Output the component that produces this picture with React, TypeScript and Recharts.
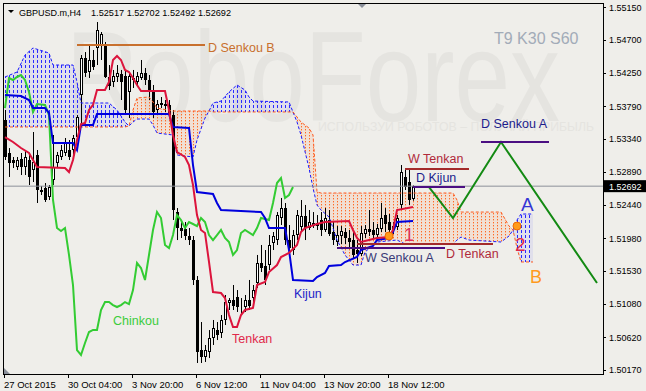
import React from "react";
import {
  ComposedChart,
  Area,
  Bar,
  Line,
  XAxis,
  YAxis,
  ReferenceLine,
  ReferenceDot,
} from "recharts";

const FONT = "'Liberation Sans', Arial, sans-serif";
const BG = "#efeeea";

// bar index 0 = 27 Oct 2015 12:00, one H4 bar per index
const tickBars = [0, 16, 32, 48, 64, 80, 96];
const tickLabels = [
  "27 Oct 2015",
  "30 Oct 04:00",
  "3 Nov 20:00",
  "6 Nov 12:00",
  "11 Nov 04:00",
  "13 Nov 20:00",
  "18 Nov 12:00",
];
const priceTicks = [
  1.5017, 1.5062, 1.5108, 1.5153, 1.5198, 1.5244, 1.5289, 1.5334, 1.5379,
  1.5425, 1.547, 1.5515,
];
const lastPrice = 1.52692;

// open, high, low, close
const ohlc: [number, number, number, number][] = [
  [1.536, 1.53737, 1.53051, 1.53092],
  [1.53147, 1.53215, 1.52818, 1.5301],
  [1.53051, 1.53092, 1.52941, 1.5301],
  [1.52955, 1.53092, 1.52914, 1.53051],
  [1.53064, 1.53147, 1.52845, 1.52955],
  [1.52955, 1.53188, 1.52845, 1.53092],
  [1.53051, 1.5312, 1.52708, 1.52818],
  [1.52914, 1.53435, 1.52749, 1.53023],
  [1.5312, 1.53188, 1.52461, 1.52639],
  [1.52639, 1.52694, 1.52571, 1.52612],
  [1.52667, 1.52735, 1.52475, 1.52502],
  [1.52543, 1.52708, 1.52502, 1.5268],
  [1.52777, 1.53394, 1.52708, 1.52955],
  [1.5301, 1.53161, 1.52941, 1.5312],
  [1.53092, 1.53257, 1.53051, 1.53188],
  [1.53147, 1.53353, 1.53106, 1.53298],
  [1.53188, 1.53325, 1.53051, 1.53092],
  [1.53188, 1.53394, 1.5312, 1.53353],
  [1.53366, 1.53668, 1.53325, 1.53641],
  [1.53943, 1.54491, 1.53504, 1.5445],
  [1.5445, 1.54532, 1.5419, 1.54244],
  [1.54258, 1.54629, 1.54176, 1.54423],
  [1.54423, 1.5456, 1.54286, 1.54327],
  [1.54588, 1.54944, 1.54354, 1.54834],
  [1.54615, 1.54807, 1.54423, 1.5478],
  [1.54629, 1.5467, 1.54176, 1.5419],
  [1.5419, 1.54354, 1.54011, 1.54066],
  [1.54121, 1.54286, 1.54052, 1.54203],
  [1.5419, 1.54354, 1.54121, 1.54244],
  [1.54231, 1.54286, 1.53874, 1.54121],
  [1.54203, 1.54286, 1.53668, 1.53737],
  [1.53984, 1.54244, 1.53627, 1.54203],
  [1.54176, 1.54286, 1.54039, 1.54149],
  [1.54121, 1.54258, 1.5408, 1.54203],
  [1.54176, 1.54423, 1.54149, 1.54244],
  [1.54244, 1.54313, 1.5408, 1.54149],
  [1.54149, 1.54217, 1.53874, 1.53984],
  [1.53984, 1.5408, 1.53627, 1.5371],
  [1.53737, 1.53874, 1.53668, 1.53819],
  [1.53833, 1.53915, 1.53764, 1.53806],
  [1.53792, 1.53874, 1.5371, 1.53819],
  [1.53806, 1.53874, 1.53627, 1.53668],
  [1.53668, 1.53737, 1.52228, 1.52365],
  [1.52337, 1.52392, 1.51953, 1.52118],
  [1.52118, 1.522, 1.51981, 1.52077],
  [1.52104, 1.522, 1.51953, 1.52008],
  [1.52008, 1.52118, 1.51885, 1.51953],
  [1.51953, 1.52008, 1.51336, 1.51405],
  [1.51405, 1.51459, 1.50266, 1.50417],
  [1.50444, 1.50828, 1.50266, 1.50348],
  [1.50348, 1.50513, 1.5028, 1.50444],
  [1.50417, 1.50718, 1.50334, 1.50608],
  [1.50608, 1.50856, 1.50513, 1.50746],
  [1.50718, 1.50828, 1.50581, 1.5065],
  [1.50677, 1.50924, 1.50609, 1.50856],
  [1.50856, 1.51199, 1.50787, 1.51102],
  [1.51089, 1.51157, 1.50993, 1.5113],
  [1.5113, 1.51336, 1.50993, 1.51048],
  [1.51171, 1.51267, 1.50966, 1.51034],
  [1.51048, 1.51157, 1.50924, 1.51061],
  [1.51034, 1.51199, 1.50966, 1.5113],
  [1.5113, 1.51405, 1.50993, 1.51048],
  [1.51157, 1.51336, 1.51102, 1.51267],
  [1.51363, 1.51748, 1.51295, 1.51638],
  [1.51638, 1.51885, 1.51514, 1.51569],
  [1.51596, 1.51816, 1.51336, 1.51405],
  [1.5161, 1.52022, 1.51542, 1.51885],
  [1.51912, 1.52063, 1.51816, 1.52008],
  [1.51953, 1.52337, 1.51885, 1.52296],
  [1.52255, 1.5253, 1.52159, 1.52392],
  [1.52392, 1.52461, 1.51885, 1.51953],
  [1.51953, 1.52159, 1.51789, 1.51844],
  [1.51816, 1.52091, 1.51748, 1.52022],
  [1.52022, 1.52365, 1.51953, 1.52296],
  [1.52132, 1.52502, 1.52063, 1.52282],
  [1.52282, 1.52434, 1.51953, 1.52118],
  [1.52118, 1.52365, 1.52091, 1.522],
  [1.52145, 1.52337, 1.52118, 1.52186],
  [1.52186, 1.52296, 1.52091, 1.52145],
  [1.52228, 1.52337, 1.52008, 1.52091],
  [1.52091, 1.52392, 1.52063, 1.52255],
  [1.52228, 1.52365, 1.52008, 1.52036],
  [1.52063, 1.522, 1.51885, 1.51953],
  [1.51926, 1.52145, 1.51871, 1.52022],
  [1.52008, 1.52145, 1.51898, 1.52077],
  [1.52063, 1.52118, 1.51898, 1.51981],
  [1.51981, 1.52091, 1.51844, 1.51926],
  [1.51953, 1.52063, 1.51706, 1.51748],
  [1.51816, 1.51953, 1.51638, 1.51761],
  [1.51761, 1.52145, 1.51734, 1.5205],
  [1.52036, 1.52159, 1.51981, 1.52104],
  [1.52104, 1.52365, 1.52008, 1.52063],
  [1.52091, 1.522, 1.51981, 1.52022],
  [1.52022, 1.52173, 1.51953, 1.52118],
  [1.52104, 1.52461, 1.52063, 1.52255],
  [1.52296, 1.52392, 1.52063, 1.52173],
  [1.522, 1.5231, 1.51981, 1.52091],
  [1.52091, 1.522, 1.52036, 1.52145],
  [1.52132, 1.52296, 1.52091, 1.52255],
  [1.52433, 1.52982, 1.52365, 1.52886],
  [1.52818, 1.52941, 1.52639, 1.5268],
  [1.52749, 1.52914, 1.52434, 1.52502],
  [1.52517, 1.52702, 1.52492, 1.52692],
];

// [bar, price]
const tenkan: [number, number][] = [
  [0, 1.53366], [2, 1.53298], [4, 1.53215], [6, 1.53147], [7, 1.53051],
  [8, 1.52955], [15, 1.52941], [16, 1.52886], [17, 1.53051], [18, 1.53325],
  [19, 1.53545], [20, 1.53558], [21, 1.53737], [22, 1.53806], [23, 1.54011],
  [25, 1.54011], [26, 1.54121], [27, 1.54423], [28, 1.54478], [29, 1.54423],
  [30, 1.54286], [31, 1.54258], [32, 1.54176], [33, 1.5408], [34, 1.53998],
  [40, 1.53998], [41, 1.53737], [42, 1.53394], [43, 1.53161], [45, 1.53092],
  [46, 1.52982], [47, 1.52708], [48, 1.52296], [49, 1.52091], [50, 1.5205],
  [51, 1.51652], [52, 1.5124], [54, 1.51226], [55, 1.51157], [56, 1.50924],
  [57, 1.5076], [58, 1.5076], [59, 1.50924], [60, 1.50993], [62, 1.5102],
  [63, 1.51336], [65, 1.51377], [66, 1.51514], [68, 1.5161], [69, 1.5172],
  [71, 1.51775], [73, 1.51885], [74, 1.52063], [75, 1.52118], [78, 1.52173],
  [80, 1.522], [86, 1.52214], [87, 1.52091], [88, 1.51981], [89, 1.51926],
  [91, 1.51953], [93, 1.51981], [96, 1.51994], [97, 1.52091], [98, 1.52365],
  [102, 1.52406],
];

const kijun: [number, number][] = [
  [0, 1.53943], [4, 1.53929], [6, 1.53874], [7, 1.53764], [10, 1.53764],
  [11, 1.53696], [12, 1.53284], [17, 1.53284], [18, 1.53188], [19, 1.53531],
  [22, 1.53531], [23, 1.53682], [41, 1.53682], [42, 1.53504], [46, 1.5349],
  [47, 1.52982], [48, 1.52612], [52, 1.52584], [53, 1.52461], [54, 1.52365],
  [64, 1.52337], [65, 1.52255], [66, 1.52118], [70, 1.52118], [71, 1.51816],
  [72, 1.51405], [77, 1.51391], [78, 1.51446], [80, 1.51501], [81, 1.51596],
  [84, 1.5161], [85, 1.51651], [88, 1.5172], [89, 1.51816], [92, 1.51871],
  [93, 1.51953], [96, 1.51981], [97, 1.52063], [98, 1.522], [102, 1.52214],
];

const chinkou: [number, number][] = [
  [0, 1.53764], [1, 1.54176], [2, 1.54149], [3, 1.5419], [4, 1.54217],
  [5, 1.54149], [6, 1.53984], [7, 1.5371], [8, 1.53819], [10, 1.53806],
  [11, 1.53668], [12, 1.52502], [13, 1.52118], [14, 1.52077], [15, 1.52118],
  [16, 1.51748], [17, 1.51336], [18, 1.50444], [19, 1.50376], [20, 1.5054],
  [21, 1.50691], [22, 1.50719], [23, 1.50719], [24, 1.50993], [25, 1.51102],
  [26, 1.51102], [27, 1.51061], [28, 1.51034], [29, 1.51061], [30, 1.51102],
  [31, 1.51075], [32, 1.51267], [33, 1.51638], [34, 1.51569], [35, 1.51405],
  [36, 1.51748], [37, 1.52091], [38, 1.52337], [39, 1.52255], [40, 1.51885],
  [41, 1.51844], [42, 1.52022], [43, 1.52296], [44, 1.52228], [45, 1.52118],
  [46, 1.522], [47, 1.52173], [48, 1.52145], [49, 1.52255], [50, 1.522],
  [51, 1.52022], [52, 1.51953], [53, 1.52022], [54, 1.52091], [55, 1.51981],
  [56, 1.51926], [57, 1.51748], [58, 1.51816], [59, 1.5205], [60, 1.52091],
  [62, 1.52022], [63, 1.52118], [64, 1.52255], [66, 1.52228], [67, 1.52461],
  [68, 1.52735], [69, 1.52804], [70, 1.5253], [71, 1.52571], [72, 1.5268],
];

// cloud, read at the same bars for both spans
const cloudBars = [
  0, 3, 5, 7, 11, 12, 17, 18, 19, 26, 28, 30,
  31, 32, 33, 36, 37, 38, 42, 43, 47, 48, 50, 51,
  52, 54, 56, 58, 60, 61, 62, 71,
  72, 73, 74, 76, 77, 78, 79,
  81, 82, 83, 85, 87, 89, 90, 93, 98, 100, 112,
  113, 114, 116, 124, 126, 127, 128, 129, 132,
];
const senkouA = [
  1.5419, 1.54258, 1.54491, 1.54588, 1.54519, 1.54354, 1.54354, 1.54121, 1.53833, 1.53833, 1.53737, 1.53572,
  1.53517, 1.53572, 1.53613, 1.53613, 1.53531, 1.53421, 1.53394, 1.5312, 1.53092, 1.53325, 1.53627, 1.53723,
  1.53833, 1.5386, 1.53984, 1.5408, 1.54011, 1.53915, 1.5386, 1.53847,
  1.5371, 1.53572, 1.53394, 1.52941, 1.52667, 1.52433, 1.52365,
  1.52269, 1.52118, 1.51953, 1.51748, 1.5161, 1.5161, 1.51789, 1.51926, 1.51953, 1.51898, 1.51898,
  1.51953, 1.51994, 1.51953, 1.51926, 1.52008, 1.52091, 1.52228, 1.5231, 1.5231,
];
const senkouB = [
  1.53504, 1.53504, 1.53504, 1.53504, 1.53504, 1.53504, 1.53504, 1.53504, 1.53504, 1.53504, 1.53504, 1.53504,
  1.53517, 1.53737, 1.53902, 1.53915, 1.53847, 1.53764, 1.53723, 1.53723, 1.53723, 1.53723, 1.53723, 1.53723,
  1.5371, 1.5371, 1.5371, 1.5371, 1.5371, 1.5371, 1.5371, 1.5371,
  1.5371, 1.53641, 1.53572, 1.5349, 1.53394, 1.52612, 1.52598,
  1.52598, 1.52598, 1.52598, 1.52598, 1.52598, 1.52598, 1.52598, 1.52598, 1.52598, 1.52598, 1.52598,
  1.52502, 1.52337, 1.52337, 1.52337, 1.52145, 1.52091, 1.51844, 1.51652, 1.51652,
];

// projected path
const zigzagBars = [106, 112, 124, 148];
const zigzag = [1.5268, 1.52255, 1.53298, 1.51363];

// drawn levels
const levelNames = ["D Senkou B", "W Tenkan", "D Kijun", "D Senkou A", "W Senkou A", "D Tenkan"];
const levelPrices = [1.54629, 1.52927, 1.5268, 1.53298, 1.51844, 1.51898];
const levelFrom = [18, 100, 102, 119, 83, 88];
const levelTo = [50, 116, 115, 136, 110, 122];

const marks: [number, number][] = [
  [96, 1.52008],
  [128, 1.52145],
];

const rows: any[] = Array.from({ length: 150 }, (_, i) => ({ i }));
ohlc.forEach(([o, h, l, c], i) => Object.assign(rows[i], { o, h, l, c, hl: [l, h] }));
tenkan.forEach(([i, v]) => (rows[i].tenkan = v));
kijun.forEach(([i, v]) => (rows[i].kijun = v));
chinkou.forEach(([i, v]) => (rows[i].chinkou = v));
cloudBars.forEach((i, k) => {
  const a = senkouA[k];
  const b = senkouB[k];
  rows[i].sa = a;
  rows[i].sb = b;
  rows[i].up = a >= b ? [b, a] : [a, a];
  rows[i].down = b > a ? [a, b] : [b, b];
});
zigzagBars.forEach((i, k) => (rows[i].zig = zigzag[k]));

const levelColors = ["#c8702e", "#a32a2a", "#4b0f82", "#4b0f82", "#4b0f82", "#a32a2a"];

const Candle = (props: any) => {
  const { x, y, width, height, payload } = props;
  if (!payload || payload.o == null) return null;
  const cx = Math.round(x + width / 2);
  const top = Math.min(y, y + height);
  const span = Math.abs(height);
  const { o, h, l, c } = payload;
  const py = (v: number) => top + (h === l ? 0 : ((h - v) / (h - l)) * span);
  const bt = Math.round(Math.min(py(o), py(c)));
  const bb = Math.round(Math.max(py(o), py(c)));
  return (
    <g>
      <line x1={cx + 0.5} x2={cx + 0.5} y1={top} y2={top + span} stroke="#000" />
      {c >= o ? (
        <rect x={cx - 0.5} y={bt + 0.5} width={2} height={Math.max(bb - bt - 1, 0)} fill="#fff" stroke="#000" />
      ) : (
        <rect x={cx - 1} y={bt} width={3} height={Math.max(bb - bt, 1)} fill="#000" />
      )}
    </g>
  );
};

const XTick = ({ x, y, payload }: any) => (
  <g>
    <line x1={x - 0.5} x2={x - 0.5} y1={y} y2={y + 4} stroke="#000" />
    <text x={x - 1} y={y + 13.5} fontSize={9.5} fill="#000" fontFamily={FONT}>
      {tickLabels[tickBars.indexOf(payload.value)]}
    </text>
  </g>
);

const YTick = ({ x, y, payload }: any) => (
  <g>
    <line x1={x} x2={x + 3} y1={Math.round(y) + 0.5} y2={Math.round(y) + 0.5} stroke="#000" />
    <text x={x + 6} y={y + 3.5} fontSize={9} fill="#000" fontFamily={FONT}>
      {Number(payload.value).toFixed(5)}
    </text>
  </g>
);

const note = (text: string, color: string, size: number) => (p: any) => (
  <text x={p.cx} y={p.cy} fill={color} fontSize={size} fontFamily={FONT}>
    {text}
  </text>
);

const PriceBox = (p: any) => (
  <g>
    <rect x={p.cx + 1} y={p.cy - 6} width={42} height={12} fill="#000" />
    <text x={p.cx + 6} y={p.cy + 3.5} fill="#fff" fontSize={9} fontFamily={FONT}>
      {lastPrice.toFixed(5)}
    </text>
  </g>
);

export default function App() {
  return (
    <div
      style={{
        position: "absolute",
        left: 0,
        top: 0,
        width: 646,
        height: 391,
        background: BG,
        overflow: "hidden",
        fontFamily: FONT,
      }}
    >
      <svg width={646} height={391} style={{ position: "absolute", left: 0, top: 0 }}>
        <defs>
          <pattern id="ichiBlueHatch" patternUnits="userSpaceOnUse" x={0} y={0} width={4} height={5}>
            <path d="M1.5 0 V3" stroke="#2a2aff" strokeWidth={1} fill="none" />
          </pattern>
          <pattern id="ichiOrangeHatch" patternUnits="userSpaceOnUse" x={0} y={0} width={4} height={3}>
            <path d="M1.5 0 V1.4" stroke="#ff6a24" strokeWidth={1} fill="none" />
          </pattern>
        </defs>
        <text x={66} y={121} fontSize={128} textLength={494} lengthAdjust="spacingAndGlyphs" fill="#e5e4e0" fontFamily={FONT}>
          RoboForex
        </text>
        <text x={318} y={131} fontSize={13} textLength={276} lengthAdjust="spacingAndGlyphs" fill="#e5e4e0" fontFamily={FONT}>
          ИСПОЛЬЗУЙ РОБОТОВ – ПОЛУЧАЙ ПРИБЫЛЬ
        </text>
        <text x={494} y={44} fontSize={16} fill="#a2abb8" fontFamily={FONT}>
          T9 K30 S60
        </text>
      </svg>

      <div style={{ position: "absolute", left: 0, top: 0 }}>
        <ComposedChart width={646} height={391} data={rows} margin={{ top: 3, right: 0, bottom: 0, left: 3 }}>
          <XAxis
            type="number"
            dataKey="i"
            domain={[-0.5, 149.5]}
            allowDataOverflow
            ticks={tickBars}
            interval={0}
            tick={<XTick />}
            tickLine={false}
            axisLine={false}
            tickSize={0}
            tickMargin={0}
            height={17}
          />
          <YAxis
            orientation="right"
            domain={[1.50115, 1.55205]}
            allowDataOverflow
            ticks={priceTicks}
            interval={0}
            tick={<YTick />}
            tickLine={false}
            axisLine={false}
            tickSize={0}
            tickMargin={0}
            width={43}
          />
          <Area dataKey="up" type="linear" stroke="none" fill="#4a4aff" fillOpacity={0.09} connectNulls dot={false} activeDot={false} isAnimationActive={false} />
          <Area dataKey="down" type="linear" stroke="none" fill="#ff7a3a" fillOpacity={0.12} connectNulls dot={false} activeDot={false} isAnimationActive={false} />
          <Area dataKey="up" type="linear" stroke="none" fill="url(#ichiBlueHatch)" fillOpacity={1} connectNulls dot={false} activeDot={false} isAnimationActive={false} />
          <Area dataKey="down" type="linear" stroke="none" fill="url(#ichiOrangeHatch)" fillOpacity={1} connectNulls dot={false} activeDot={false} isAnimationActive={false} />
          <Line dataKey="sa" type="linear" stroke="#1a1aff" strokeWidth={1} strokeDasharray="3 2" connectNulls dot={false} activeDot={false} isAnimationActive={false} />
          <Line dataKey="sb" type="linear" stroke="#ff5a1f" strokeWidth={1} strokeDasharray="3 2" connectNulls dot={false} activeDot={false} isAnimationActive={false} />
          <ReferenceLine y={lastPrice} stroke="#8c909a" strokeWidth={1} />
          <Bar dataKey="hl" barSize={3} shape={<Candle />} isAnimationActive={false} />
          <Line dataKey="chinkou" type="linear" stroke="#33cc33" strokeWidth={2} connectNulls dot={false} activeDot={false} isAnimationActive={false} />
          <Line dataKey="kijun" type="linear" stroke="#0000dd" strokeWidth={2} connectNulls dot={false} activeDot={false} isAnimationActive={false} />
          <Line dataKey="tenkan" type="linear" stroke="#dc143c" strokeWidth={2} connectNulls dot={false} activeDot={false} isAnimationActive={false} />
          <Line dataKey="zig" type="linear" stroke="#138a13" strokeWidth={2} connectNulls dot={false} activeDot={false} isAnimationActive={false} />
          {levelNames.map((name, k) => (
            <ReferenceLine
              key={name}
              segment={[
                { x: levelFrom[k], y: levelPrices[k] },
                { x: levelTo[k], y: levelPrices[k] },
              ]}
              stroke={levelColors[k]}
              strokeWidth={2}
              ifOverflow="visible"
            />
          ))}
          {marks.map(([i, v]) => (
            <ReferenceDot key={i} x={i} y={v} r={4} fill="#ff9a1a" stroke="#f06a00" strokeWidth={1} ifOverflow="visible" />
          ))}
          <ReferenceDot x={50.75} y={1.54533} r={0} ifOverflow="visible" shape={note("D Senkou B", "#c8702e", 12.5)} />
          <ReferenceDot x={100.75} y={1.5301} r={0} ifOverflow="visible" shape={note("W Tenkan", "#b02a3a", 12.5)} />
          <ReferenceDot x={102.75} y={1.52749} r={0} ifOverflow="visible" shape={note("D Kijun", "#1c1c8c", 12.5)} />
          <ReferenceDot x={119} y={1.5349} r={0} ifOverflow="visible" shape={note("D Senkou A", "#1c1c8c", 12.5)} />
          <ReferenceDot x={90} y={1.51651} r={0} ifOverflow="visible" shape={note("W Senkou A", "#3a3a78", 12.5)} />
          <ReferenceDot x={110.25} y={1.51706} r={0} ifOverflow="visible" shape={note("D Tenkan", "#b02a3a", 12.5)} />
          <ReferenceDot x={27} y={1.50787} r={0} ifOverflow="visible" shape={note("Chinkou", "#3ccc3c", 12.5)} />
          <ReferenceDot x={56.75} y={1.5054} r={0} ifOverflow="visible" shape={note("Tenkan", "#e0284a", 12.5)} />
          <ReferenceDot x={72.25} y={1.51157} r={0} ifOverflow="visible" shape={note("Kijun", "#2323c8", 12.5)} />
          <ReferenceDot x={99.75} y={1.5194} r={0} ifOverflow="visible" shape={note("1", "#e0305a", 18)} />
          <ReferenceDot x={127.5} y={1.51802} r={0} ifOverflow="visible" shape={note("2", "#e0284a", 19)} />
          <ReferenceDot x={129} y={1.52351} r={0} ifOverflow="visible" shape={note("A", "#3535d5", 19)} />
          <ReferenceDot x={131.25} y={1.51363} r={0} ifOverflow="visible" shape={note("B", "#ff9a1e", 18)} />
          <ReferenceDot x={149.5} y={lastPrice} r={0} ifOverflow="visible" shape={PriceBox} />
        </ComposedChart>
      </div>

      <div
        style={{
          position: "absolute",
          left: 3,
          top: 3,
          width: 601,
          height: 372,
          boxSizing: "border-box",
          border: "1px solid #000",
          pointerEvents: "none",
        }}
      />
      <svg width={646} height={391} style={{ position: "absolute", left: 0, top: 0, pointerEvents: "none" }}>
        <polygon points="8,10 14,10 11,13" fill="#000" />
        <text x={19} y={16} fontSize={9} fill="#000" fontFamily={FONT}>
          GBPUSD.m,H4
        </text>
        <text x={91} y={16} fontSize={9} fill="#000" fontFamily={FONT} textLength={140} lengthAdjust="spacingAndGlyphs">
          1.52517 1.52702 1.52492 1.52692
        </text>
        <polygon points="358,4 366,4 362,8" fill="#8a8f9a" />
        <polygon points="4,368 4,374 10,374" fill="#8a8f9a" />
      </svg>
    </div>
  );
}
